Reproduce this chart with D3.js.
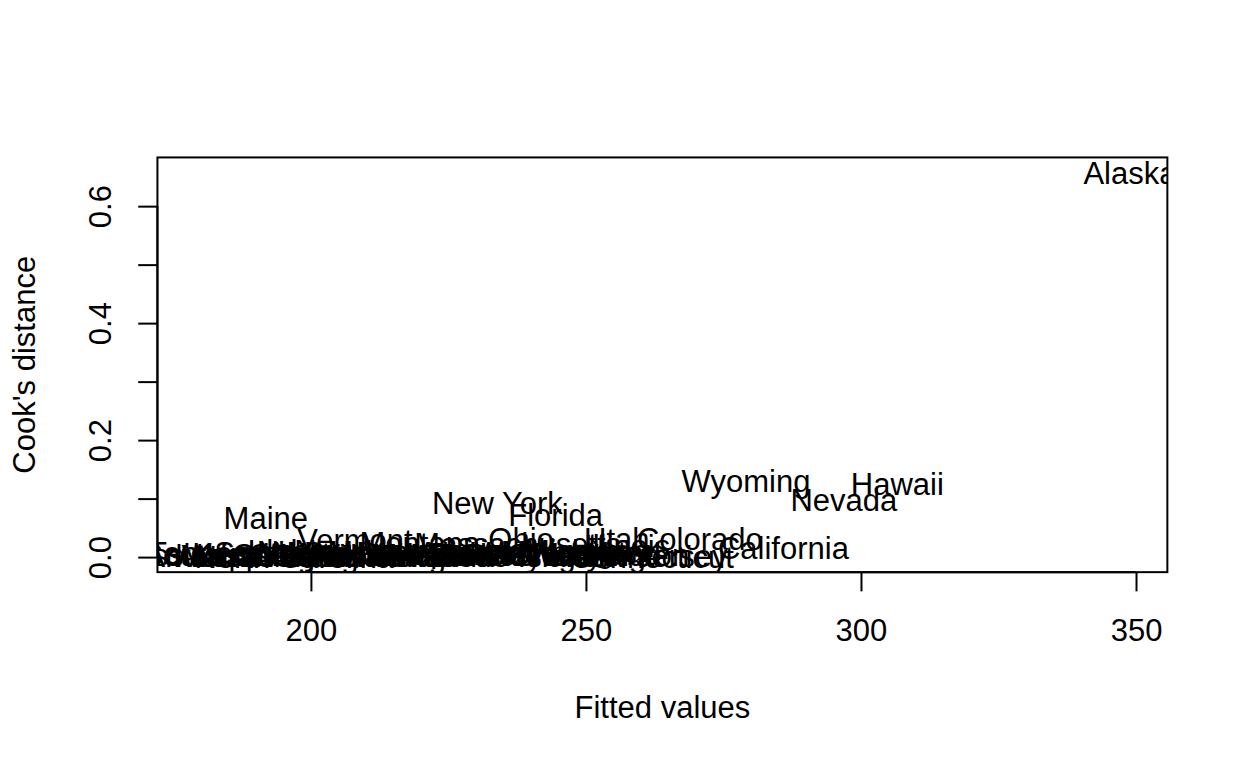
<!DOCTYPE html>
<html>
<head>
<meta charset="utf-8">
<script src="https://cdn.jsdelivr.net/npm/d3@7"></script>
<style>
  html, body { margin: 0; padding: 0; background: #ffffff; }
  svg { display: block; }
  text { font-family: "Liberation Sans", Arial, sans-serif; fill: #000; }
</style>
</head>
<body>
<script>
// ---- data ----
const states = [
  "Alaska","Hawaii","Wyoming","Nevada","New York","Florida","Maine","California",
  "Colorado","Utah","Ohio","Vermont","Connecticut",
  "Mississippi","Arkansas","Tennessee","Alabama","South Carolina","Kentucky",
  "West Virginia","Idaho","North Carolina","South Dakota","Oklahoma","Georgia",
  "New Mexico","Louisiana","North Dakota","Nebraska","Montana","Iowa",
  "New Hampshire","Texas","Missouri","Virginia","Indiana","Arizona","Kansas",
  "Delaware","Rhode Island","Massachusetts","Pennsylvania","Wisconsin","Oregon",
  "Minnesota","Michigan","Maryland","Washington","Illinois","New Jersey"
];
const fitted = [
  348.9, 306.6, 279.1, 296.9, 233.9, 244.5, 191.8, 285.9,
  270.7, 255.6, 238.2, 208.0, 262.0,
  178.9, 181.5, 184.0, 186.5, 188.0, 190.0,
  193.0, 195.5, 197.0, 199.5, 201.5, 203.0,
  205.5, 207.0, 209.5, 212.0, 219.8, 214.5,
  217.0, 219.0, 221.5, 224.0, 226.5, 229.0, 231.0,
  233.5, 236.0, 237.6, 240.0, 242.5, 245.0,
  247.5, 250.0, 252.0, 254.0, 257.5, 261.0
];
const cooks = [
  0.657, 0.124, 0.129, 0.097, 0.093, 0.071, 0.066, 0.016,
  0.030, 0.031, 0.030, 0.029, 0.0005,
  0.004, 0.002, 0.006, 0.001, 0.003, 0.005,
  0.002, 0.010, 0.0005, 0.007, 0.003, 0.001,
  0.009, 0.002, 0.006, 0.001, 0.024, 0.004,
  0.011, 0.001, 0.003, 0.002, 0.005, 0.007, 0.003,
  0.005, 0.002, 0.022, 0.004, 0.006, 0.003,
  0.008, 0.010, 0.005, 0.003, 0.018, 0.002
];
const xTicks = [200, 250, 300, 350];
const yTicks = [0, 0.1, 0.2, 0.3, 0.4, 0.5, 0.6];
const yTickLabels = ["0.0", "", "0.2", "", "0.4", "", "0.6"];
const xLabel = "Fitted values";
const yLabel = "Cook's distance";

// ---- layout (R-style margins) ----
const W = 1248, H = 768;
const pL = 157.44, pR = 1167.36, pT = 157.44, pB = 572.16;
const fontSize = 31;
const tickLen = 19.2;

const pad = (ext) => { const r = ext[1] - ext[0]; return [ext[0] - 0.04 * r, ext[1] + 0.04 * r]; };
const x = d3.scaleLinear().domain(pad(d3.extent(fitted))).range([pL, pR]);
const y = d3.scaleLinear().domain(pad(d3.extent(cooks))).range([pB, pT]);

const svg = d3.select("body").append("svg").attr("width", W).attr("height", H);
svg.append("rect").attr("width", W).attr("height", H).attr("fill", "#fff");

svg.append("defs").append("clipPath").attr("id", "plotclip")
  .append("rect").attr("x", pL).attr("y", pT).attr("width", pR - pL).attr("height", pB - pT);

// labels
const pts = states.map((s, i) => ({ s, fx: fitted[i], cd: cooks[i] }));
svg.append("g").attr("clip-path", "url(#plotclip)")
  .selectAll("text").data(pts).join("text")
  .attr("x", d => x(d.fx))
  .attr("y", d => y(d.cd))
  .attr("dy", "0.35em")
  .attr("text-anchor", "middle")
  .style("font-size", fontSize + "px")
  .text(d => d.s);

// x axis
const xAxis = d3.axisBottom(x).tickValues(xTicks).tickSize(tickLen).tickPadding(0).tickFormat(d3.format("d"));
const gx = svg.append("g").attr("transform", `translate(0,${pB})`).call(xAxis);
gx.select(".domain").attr("d", `M${x(xTicks[0])},0H${x(xTicks[xTicks.length - 1])}`).attr("stroke", "#000").attr("stroke-width", 2);
gx.selectAll(".tick line").attr("stroke", "#000").attr("stroke-width", 2);
gx.selectAll(".tick text").attr("y", 630 - pB).attr("dy", "0.35em")
  .style("font-size", fontSize + "px").attr("font-family", "Liberation Sans, Arial, sans-serif").attr("fill", "#000");

// y axis
const yAxis = d3.axisLeft(y).tickValues(yTicks).tickSize(tickLen).tickPadding(0).tickFormat((d, i) => yTickLabels[i]);
const gy = svg.append("g").attr("transform", `translate(${pL},0)`).call(yAxis);
gy.select(".domain").attr("d", `M0,${y(yTicks[0])}V${y(yTicks[yTicks.length - 1])}`).attr("stroke", "#000").attr("stroke-width", 2);
gy.selectAll(".tick line").attr("stroke", "#000").attr("stroke-width", 2);
gy.selectAll(".tick text")
  .attr("x", null)
  .attr("transform", `translate(${100 - pL},0) rotate(-90)`)
  .attr("text-anchor", "middle").attr("dy", "0.35em")
  .style("font-size", fontSize + "px").attr("font-family", "Liberation Sans, Arial, sans-serif").attr("fill", "#000");

// box
svg.append("rect").attr("x", pL).attr("y", pT).attr("width", pR - pL).attr("height", pB - pT)
  .attr("fill", "none").attr("stroke", "#000").attr("stroke-width", 2);

// axis titles
svg.append("text").attr("x", (pL + pR) / 2).attr("y", 707).attr("dy", "0.35em")
  .attr("text-anchor", "middle").style("font-size", fontSize + "px").text(xLabel);
svg.append("text").attr("transform", `translate(24,${(pT + pB) / 2}) rotate(-90)`).attr("dy", "0.35em")
  .attr("text-anchor", "middle").style("font-size", fontSize + "px").text(yLabel);
</script>
</body>
</html>
